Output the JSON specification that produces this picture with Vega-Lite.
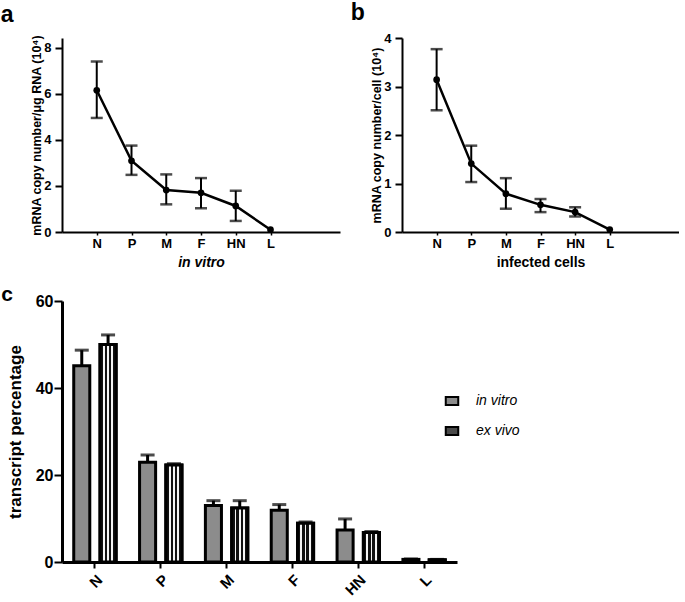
{
  "$schema": "https://vega.github.io/schema/vega-lite/v6.json",
  "padding": {"left": 0, "top": 2, "right": 0, "bottom": 0},
  "background": "white",
  "config": {
    "font": "Liberation Sans",
    "view": {"stroke": null},
    "axis": {"domainColor": "black", "tickColor": "black", "labelColor": "black", "titleColor": "black", "labelFont": "Liberation Sans", "titleFont": "Liberation Sans", "labelFontWeight": "bold", "titleFontWeight": "bold", "grid": false},
    "title": {"anchor": "start", "frame": "bounds", "font": "Liberation Sans", "fontWeight": "bold", "color": "black"}
  },
  "datasets": {
    "lines": [
      {"panel": "a", "gene": "N", "mean": 6.15, "lo": 4.95, "hi": 7.4},
      {"panel": "a", "gene": "P", "mean": 3.09, "lo": 2.48, "hi": 3.75},
      {"panel": "a", "gene": "M", "mean": 1.82, "lo": 1.2, "hi": 2.5},
      {"panel": "a", "gene": "F", "mean": 1.7, "lo": 1.03, "hi": 2.34},
      {"panel": "a", "gene": "HN", "mean": 1.13, "lo": 0.48, "hi": 1.79},
      {"panel": "a", "gene": "L", "mean": 0.1, "lo": null, "hi": null},
      {"panel": "b", "gene": "N", "mean": 3.14, "lo": 2.51, "hi": 3.77},
      {"panel": "b", "gene": "P", "mean": 1.41, "lo": 1.03, "hi": 1.78},
      {"panel": "b", "gene": "M", "mean": 0.79, "lo": 0.48, "hi": 1.11},
      {"panel": "b", "gene": "F", "mean": 0.56, "lo": 0.41, "hi": 0.68},
      {"panel": "b", "gene": "HN", "mean": 0.41, "lo": 0.32, "hi": 0.51},
      {"panel": "b", "gene": "L", "mean": 0.05, "lo": null, "hi": null}
    ],
    "bars": [
      {"gene": "N", "cond": "in vitro", "mean": 45.1, "hi": 48.7},
      {"gene": "N", "cond": "ex vivo", "mean": 50.0, "hi": 52.2},
      {"gene": "P", "cond": "in vitro", "mean": 22.95, "hi": 24.6},
      {"gene": "P", "cond": "ex vivo", "mean": 22.3, "hi": 22.6},
      {"gene": "M", "cond": "in vitro", "mean": 13.0, "hi": 14.1},
      {"gene": "M", "cond": "ex vivo", "mean": 12.4, "hi": 14.1},
      {"gene": "F", "cond": "in vitro", "mean": 11.9, "hi": 13.2},
      {"gene": "F", "cond": "ex vivo", "mean": 8.9, "hi": 9.2},
      {"gene": "HN", "cond": "in vitro", "mean": 7.35, "hi": 9.9},
      {"gene": "HN", "cond": "ex vivo", "mean": 6.8, "hi": 7.0},
      {"gene": "L", "cond": "in vitro", "mean": 0.6, "hi": 0.7},
      {"gene": "L", "cond": "ex vivo", "mean": 0.5, "hi": 0.6}
    ]
  },
  "align": "none",
  "spacing": 15,
  "vconcat": [
    {
      "spacing": 10,
      "hconcat": [
        {
          "width": 278,
          "height": 194,
          "title": {"text": "a", "fontSize": 23, "dx": -30, "offset": 7},
          "data": {"name": "lines"},
          "transform": [{"filter": "datum.panel === 'a'"}],
          "encoding": {
            "x": {"field": "gene", "type": "nominal", "scale": {"type": "point", "domain": ["N", "P", "M", "F", "HN", "L", "_"], "padding": 1},
              "axis": {"values": ["N", "P", "M", "F", "HN", "L"], "title": "in vitro", "titleFontStyle": "italic", "titleFontSize": 14, "labelFontSize": 13, "labelAngle": 0, "tickSize": 3, "tickWidth": 1.5, "domainWidth": 2, "labelPadding": 2, "titlePadding": 5}},
            "y": {"field": "mean", "type": "quantitative", "scale": {"domain": [0, 8.42], "nice": false},
              "axis": {"values": [0, 2, 4, 6, 8], "title": "mRNA copy number/μg RNA (10⁴)", "titleFontSize": 12.5, "labelFontSize": 13, "tickSize": 7, "tickWidth": 2, "domainWidth": 2, "labelPadding": 4, "titlePadding": 0}}
          },
          "layer": [
            {"mark": {"type": "rule", "color": "black", "strokeWidth": 2}, "encoding": {"y": {"field": "lo", "type": "quantitative"}, "y2": {"field": "hi"}}},
            {"mark": {"type": "tick", "color": "black", "thickness": 2.5, "size": 12}, "encoding": {"y": {"field": "lo", "type": "quantitative"}}},
            {"mark": {"type": "tick", "color": "black", "thickness": 2.5, "size": 12}, "encoding": {"y": {"field": "hi", "type": "quantitative"}}},
            {"mark": {"type": "line", "color": "black", "strokeWidth": 2.5}},
            {"mark": {"type": "point", "filled": true, "color": "black", "size": 45, "opacity": 1}}
          ]
        },
        {
          "width": 277,
          "height": 194,
          "title": {"text": "b", "fontSize": 23, "dx": -20, "offset": 7},
          "data": {"name": "lines"},
          "transform": [{"filter": "datum.panel === 'b'"}],
          "encoding": {
            "x": {"field": "gene", "type": "nominal", "scale": {"type": "point", "domain": ["N", "P", "M", "F", "HN", "L", "_"], "padding": 1},
              "axis": {"values": ["N", "P", "M", "F", "HN", "L"], "title": "infected cells", "titleFontSize": 14, "labelFontSize": 13, "labelAngle": 0, "tickSize": 3, "tickWidth": 1.5, "domainWidth": 2, "labelPadding": 2, "titlePadding": 5}},
            "y": {"field": "mean", "type": "quantitative", "scale": {"domain": [0, 4], "nice": false},
              "axis": {"values": [0, 1, 2, 3, 4], "title": "mRNA copy number/cell (10⁴)", "titleFontSize": 12.5, "labelFontSize": 13, "tickSize": 7, "tickWidth": 2, "domainWidth": 2, "labelPadding": 4, "titlePadding": 0}}
          },
          "layer": [
            {"mark": {"type": "rule", "color": "black", "strokeWidth": 2}, "encoding": {"y": {"field": "lo", "type": "quantitative"}, "y2": {"field": "hi"}}},
            {"mark": {"type": "tick", "color": "black", "thickness": 2.5, "size": 12}, "encoding": {"y": {"field": "lo", "type": "quantitative"}}},
            {"mark": {"type": "tick", "color": "black", "thickness": 2.5, "size": 12}, "encoding": {"y": {"field": "hi", "type": "quantitative"}}},
            {"mark": {"type": "line", "color": "black", "strokeWidth": 2.5}},
            {"mark": {"type": "point", "filled": true, "color": "black", "size": 45, "opacity": 1}}
          ]
        }
      ]
    },
    {
      "width": 395,
      "height": 261,
      "title": {"text": "c", "fontSize": 21, "dx": -5, "dy": 12, "offset": 0},
      "data": {"name": "bars"},
      "encoding": {
        "x": {"field": "gene", "type": "nominal", "sort": ["N", "P", "M", "F", "HN", "L"], "scale": {"paddingInner": 0, "paddingOuter": 0},
          "axis": {"title": null, "labelAngle": -45, "labelFontSize": 15, "tickSize": 6, "tickWidth": 2, "domainWidth": 3, "labelPadding": 4}},
        "xOffset": {"field": "cond", "type": "nominal", "sort": ["in vitro", "ex vivo"], "scale": {"paddingInner": 0.39, "paddingOuter": 0.446}},
        "y": {"field": "mean", "type": "quantitative", "scale": {"domain": [0, 60], "nice": false},
          "axis": {"values": [0, 20, 40, 60], "title": "transcript percentage", "titleFontSize": 17, "labelFontSize": 16, "tickSize": 8, "tickWidth": 2, "domainWidth": 3, "labelPadding": 1, "titlePadding": 11}}
      },
      "layer": [
        {
          "mark": {"type": "bar", "stroke": "black", "strokeWidth": 3},
          "encoding": {
            "fill": {"field": "cond", "type": "nominal", "sort": ["in vitro", "ex vivo"],
              "scale": {"domain": ["in vitro", "ex vivo"], "range": ["#8c8c8c", "#4a4a4a"]},
              "legend": {"title": null, "orient": "none", "legendX": 381, "legendY": 354, "padding": 0, "symbolType": "M-0.78,-0.5H0.78V0.5H-0.78Z", "symbolSize": 256, "symbolStrokeColor": "black", "symbolStrokeWidth": 2, "symbolOpacity": 1, "labelFont": "Liberation Sans", "labelFontStyle": "italic", "labelFontSize": 14, "labelColor": "black", "labelOffset": 15, "rowPadding": 13}}
          }
        },
        {
          "transform": [{"filter": "datum.cond === 'ex vivo'"}],
          "mark": {"type": "bar", "stroke": "black", "strokeWidth": 3, "fill": {"gradient": "linear", "x1": 0, "y1": 0, "x2": 1, "y2": 0, "stops": [
                {"offset": 0, "color": "#111111"}, {"offset": 0.18, "color": "#111111"}, {"offset": 0.18, "color": "#f4f4f4"}, {"offset": 0.29, "color": "#f4f4f4"},
                {"offset": 0.29, "color": "#111111"}, {"offset": 0.445, "color": "#111111"}, {"offset": 0.445, "color": "#f4f4f4"}, {"offset": 0.555, "color": "#f4f4f4"},
                {"offset": 0.555, "color": "#111111"}, {"offset": 0.71, "color": "#111111"}, {"offset": 0.71, "color": "#f4f4f4"}, {"offset": 0.82, "color": "#f4f4f4"},
                {"offset": 0.82, "color": "#111111"}, {"offset": 1, "color": "#111111"}]}}
        },
        {"mark": {"type": "rule", "color": "black", "strokeWidth": 3}, "encoding": {"y2": {"field": "hi"}}},
        {"mark": {"type": "tick", "color": "black", "thickness": 3, "size": 14}, "encoding": {"y": {"field": "hi", "type": "quantitative"}}}
      ]
    }
  ]
}
